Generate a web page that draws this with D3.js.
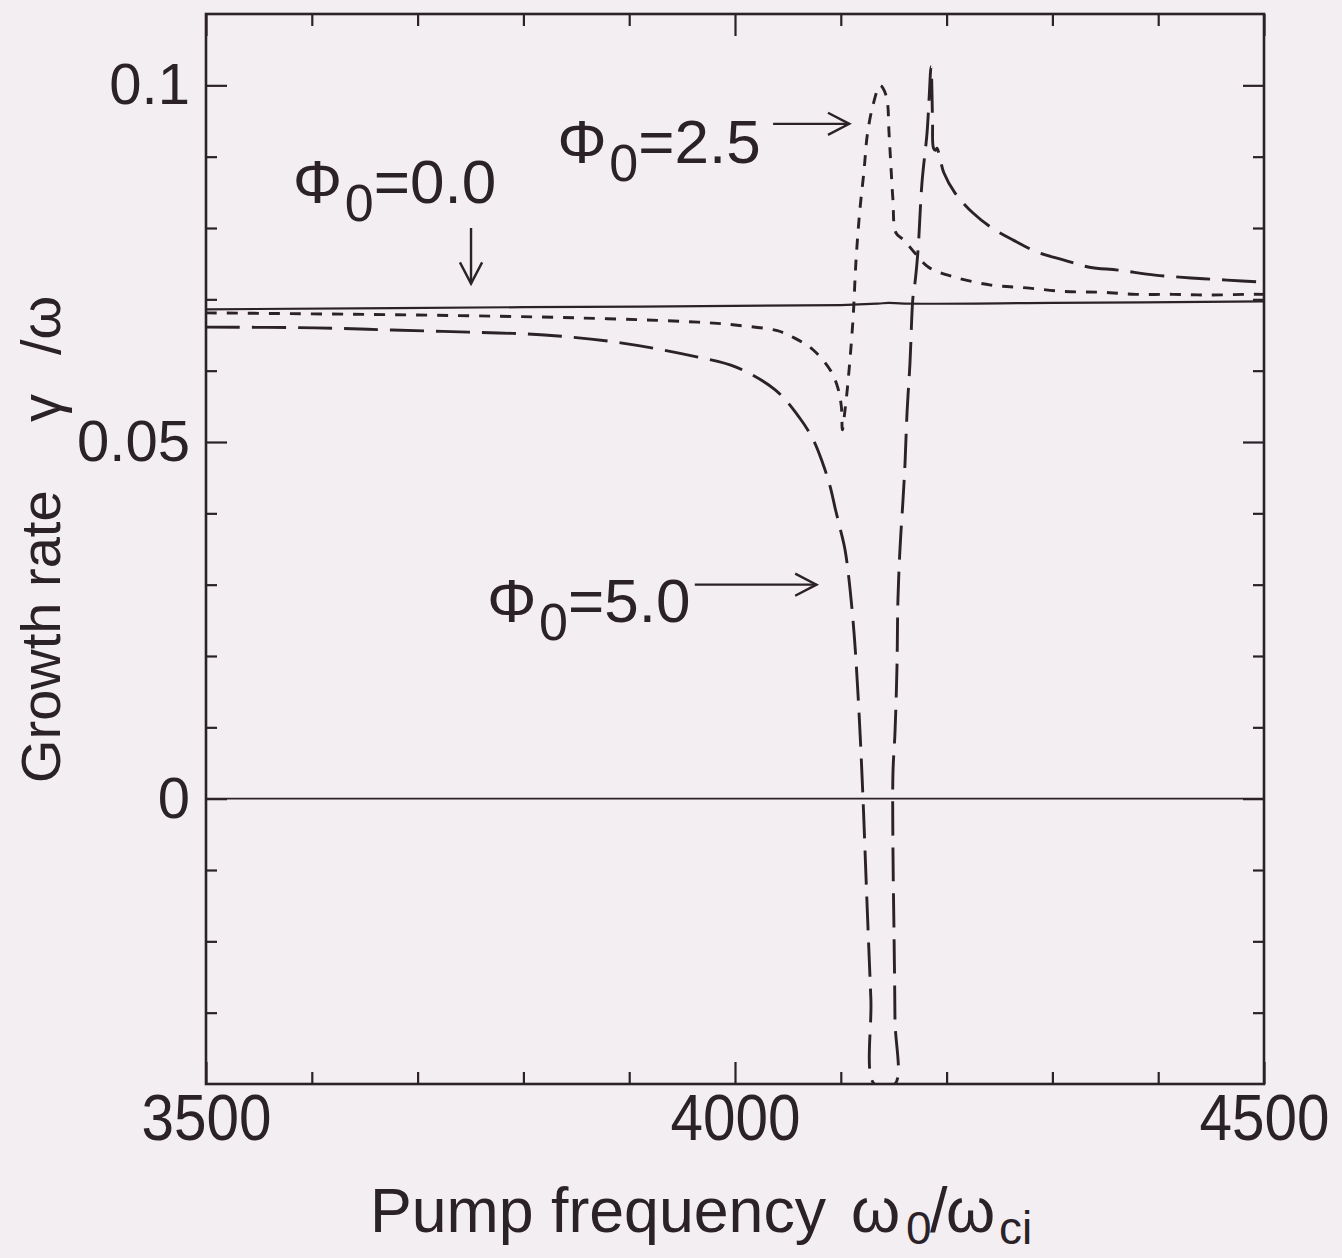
<!DOCTYPE html>
<html lang="ja">
<head>
<meta charset="UTF-8">
<title>Growth rate vs pump frequency</title>
<script src="https://d3js.org/d3.v7.min.js"></script>
<style>
  html, body { margin: 0; padding: 0; background: #f3eef2; }
  svg { display: block; }
  text { font-family: 'Liberation Sans', Arial, Helvetica, sans-serif; fill: #2b2228; }
</style>
</head>
<body>
<div id="main"></div>
<script>
  // --- data ---
  // Phi0 = 0.0 (solid)
  const freq00 = [3500, 3800, 4100, 4135, 4145, 4160, 4300, 4500]
  const rate00 = [0.0686, 0.0689, 0.0692, 0.0694, 0.0695, 0.0694, 0.0695, 0.0697]
  // Phi0 = 2.5 (short dash)
  const freq25 = [3500, 3700, 3850, 3965, 4000, 4040, 4056, 4074, 4090, 4097, 4100.5, 4101.5,
    4104, 4106.8, 4111.5, 4114.4, 4118, 4122, 4125, 4130.4, 4137,
    4139.9, 4143.7, 4145.6, 4147.4, 4149.3, 4152.2, 4159.7, 4170, 4183, 4208, 4242, 4276, 4311,
    4345, 4379, 4414, 4448, 4482, 4500]
  const rate25 = [0.0681, 0.0678, 0.0674, 0.0668, 0.0664, 0.0656, 0.0646, 0.0629, 0.0601, 0.0577, 0.0550, 0.0517,
    0.0545, 0.0584, 0.0671, 0.0755, 0.0825, 0.0881, 0.0930, 0.0972, 0.1000,
    0.0996, 0.0980, 0.0933, 0.0886, 0.0839, 0.0793, 0.0783, 0.0765, 0.0745, 0.0731, 0.0720, 0.0716, 0.0711,
    0.0710, 0.0707, 0.0707, 0.0706, 0.0707, 0.0707]
  // Phi0 = 5.0 (long dash)
  const freq50 = [3500, 3603, 3676, 3748, 3820, 3892, 3965, 4001, 4038, 4061, 4074, 4083, 4090, 4095, 4099,
    4104, 4109, 4113, 4116, 4118.5, 4121, 4124.6, 4128.4, 4131.7,
    4151.2, 4151.2, 4150.3, 4149.3, 4149.3, 4151.2, 4153.1, 4154, 4155.9, 4158.8, 4160.7, 4162.6,
    4165.4, 4168.2, 4170.1, 4173, 4176.7, 4181.5, 4183.4, 4185.3, 4186.7, 4187.6, 4189.5, 4190.9,
    4193.7, 4197.5, 4208, 4225, 4242, 4263, 4286, 4311, 4335, 4362, 4397, 4431, 4465, 4500]
  const rate50 = [0.0661, 0.0660, 0.0657, 0.0654, 0.0650, 0.0639, 0.0619, 0.0605, 0.0573, 0.0534, 0.0503, 0.0470, 0.0437, 0.0405, 0.0381,
    0.0349, 0.0290, 0.0223, 0.0153, 0.0083, 0.0000, -0.0140, -0.0280, -0.0400,
    -0.0400, -0.0310, -0.0188, -0.0072, 0.0036, 0.0092, 0.0185, 0.0279, 0.0349, 0.0419, 0.0470, 0.0541,
    0.0611, 0.0703, 0.0723, 0.0769, 0.0863, 0.0933, 0.0980, 0.1026, 0.0952, 0.0912, 0.0909, 0.0912,
    0.0898, 0.0877, 0.0849, 0.0821, 0.0801, 0.0783, 0.0766, 0.0755, 0.0745, 0.0741, 0.0734, 0.0730, 0.0727, 0.0724]

  const xMajor = [3500, 4000, 4500]
  const xMinor = [3600, 3700, 3800, 3900, 4100, 4200, 4300, 4400]
  const yMajor = [0, 0.05, 0.1]
  const yMinor = [-0.03, -0.02, -0.01, 0.01, 0.02, 0.03, 0.04, 0.06, 0.07, 0.08, 0.09]

  const ink = '#2b2228'
  const width = 1342
  const height = 1258
  const plotL = 206, plotR = 1264, plotT = 14, plotB = 1084

  const svg = d3.select('#main').append('svg')
    .attr('width', width)
    .attr('height', height)

  const x = d3.scaleLinear().domain([3500, 4500]).range([plotL, plotR])
  const y = d3.scaleLinear().domain([-0.04, 0.11]).range([plotB, plotT])

  svg.append('defs').append('clipPath').attr('id', 'plotClip')
    .append('rect').attr('x', plotL).attr('y', plotT).attr('width', plotR - plotL).attr('height', plotB - plotT)

  // axes (ticks inward)
  function styleAxis (g) {
    g.select('.domain').remove()
    g.attr('color', ink).attr('font-family', "'Liberation Sans', Arial, sans-serif")
    g.selectAll('.tick line').attr('stroke-width', 2.2)
  }
  svg.append('g').attr('transform', `translate(0,${plotB})`)
    .call(d3.axisBottom(x).tickValues(xMinor).tickSize(-12).tickFormat(''))
    .call(styleAxis)
  const xAx = svg.append('g').attr('transform', `translate(0,${plotB})`)
    .call(d3.axisBottom(x).tickValues(xMajor).tickSize(-22).tickPadding(9).tickFormat(d3.format('d')))
    .call(styleAxis)
  xAx.selectAll('text').attr('font-size', 64).attr('dy', '0.74em')
    .attr('textLength', 130).attr('lengthAdjust', 'spacingAndGlyphs')

  svg.append('g').attr('transform', `translate(0,${plotT})`)
    .call(d3.axisTop(x).tickValues(xMinor).tickSize(-12).tickFormat(''))
    .call(styleAxis)
  svg.append('g').attr('transform', `translate(0,${plotT})`)
    .call(d3.axisTop(x).tickValues(xMajor).tickSize(-22).tickFormat(''))
    .call(styleAxis)

  svg.append('g').attr('transform', `translate(${plotL},0)`)
    .call(d3.axisLeft(y).tickValues(yMinor).tickSize(-11).tickFormat(''))
    .call(styleAxis)
  const yAx = svg.append('g').attr('transform', `translate(${plotL},0)`)
    .call(d3.axisLeft(y).tickValues(yMajor).tickSize(-21).tickPadding(16)
      .tickFormat(d => d === 0 ? '0' : String(d)))
    .call(styleAxis)
  yAx.selectAll('text').attr('font-size', 58)

  svg.append('g').attr('transform', `translate(${plotR},0)`)
    .call(d3.axisRight(y).tickValues(yMinor).tickSize(-11).tickFormat(''))
    .call(styleAxis)
  svg.append('g').attr('transform', `translate(${plotR},0)`)
    .call(d3.axisRight(y).tickValues(yMajor).tickSize(-21).tickFormat(''))
    .call(styleAxis)

  // zero line
  svg.append('line')
    .attr('x1', plotL).attr('x2', plotR)
    .attr('y1', y(0)).attr('y2', y(0))
    .attr('stroke', ink).attr('stroke-width', 1.8)

  // curves
  const line = d3.line()
    .x(d => x(d[0]))
    .y(d => y(d[1]))
    .curve(d3.curveCatmullRom.alpha(0.5))

  const curves = svg.append('g').attr('clip-path', 'url(#plotClip)')
    .attr('fill', 'none').attr('stroke', ink)
  curves.append('path')
    .datum(d3.zip(freq00, rate00))
    .attr('stroke-width', 2.2)
    .attr('d', line)
  curves.append('path')
    .datum(d3.zip(freq25, rate25))
    .attr('stroke-width', 2.9)
    .attr('stroke-dasharray', '11,10')
    .attr('d', line)
  curves.append('path')
    .datum(d3.zip(freq50, rate50))
    .attr('stroke-width', 2.9)
    .attr('stroke-dasharray', '34,12')
    .attr('d', line)

  // frame
  svg.append('rect')
    .attr('x', plotL).attr('y', plotT)
    .attr('width', plotR - plotL).attr('height', plotB - plotT)
    .attr('fill', 'none').attr('stroke', ink).attr('stroke-width', 2.6)

  // annotations
  function phiLabel (fx, fy, value) {
    const px = x(fx), py = y(fy)
    const t = svg.append('text').attr('y', py).style('font-size', '62px')
    t.append('tspan').attr('x', px).text('Φ')
    t.append('tspan').attr('x', px + 52).attr('dy', 18).style('font-size', '52px').text('0')
    t.append('tspan').attr('x', px + 81).attr('dy', -18).text('=' + value)
  }
  function arrow (x1, y1, x2, y2) {
    const ax1 = x(x1), ay1 = y(y1), ax2 = x(x2), ay2 = y(y2)
    const ang = Math.atan2(ay2 - ay1, ax2 - ax1)
    const hl = 24, hw = 0.48
    svg.append('line').attr('x1', ax1).attr('y1', ay1).attr('x2', ax2).attr('y2', ay2)
      .attr('stroke', ink).attr('stroke-width', 2.4)
    svg.append('path')
      .attr('d', `M${ax2 - hl * Math.cos(ang - hw)},${ay2 - hl * Math.sin(ang - hw)}L${ax2},${ay2}L${ax2 - hl * Math.cos(ang + hw)},${ay2 - hl * Math.sin(ang + hw)}`)
      .attr('fill', 'none').attr('stroke', ink).attr('stroke-width', 2.4)
  }

  phiLabel(3582, 0.0835, '0.0')
  arrow(3750.5, 0.0800, 3750.5, 0.0722)
  phiLabel(3832, 0.0891, '2.5')
  arrow(4036, 0.0946, 4108, 0.0946)
  phiLabel(3765.6, 0.0248, '5.0')
  arrow(3962, 0.0300, 4077, 0.0300)

  // axis titles
  const xt = svg.append('text').attr('y', 1232).style('font-size', '63px')
  xt.append('tspan').attr('x', 370).attr('textLength', 456).attr('lengthAdjust', 'spacingAndGlyphs')
    .text('Pump frequency')
  xt.append('tspan').attr('x', 851).text('ω')
  xt.append('tspan').attr('x', 906).attr('dy', 12).style('font-size', '46px').text('0')
  xt.append('tspan').attr('x', 930).attr('dy', -12).text('/')
  xt.append('tspan').attr('x', 946).text('ω')
  xt.append('tspan').attr('x', 999).attr('dy', 12).style('font-size', '46px').text('ci')

  const yt = svg.append('text').attr('transform', 'translate(60,783) rotate(-90)').style('font-size', '56px')
  yt.append('tspan').attr('x', 0).text('Growth rate')
  yt.append('tspan').attr('x', 361).text('γ')
  yt.append('tspan').attr('x', 428).text('/ω')
</script>
</body>
</html>
